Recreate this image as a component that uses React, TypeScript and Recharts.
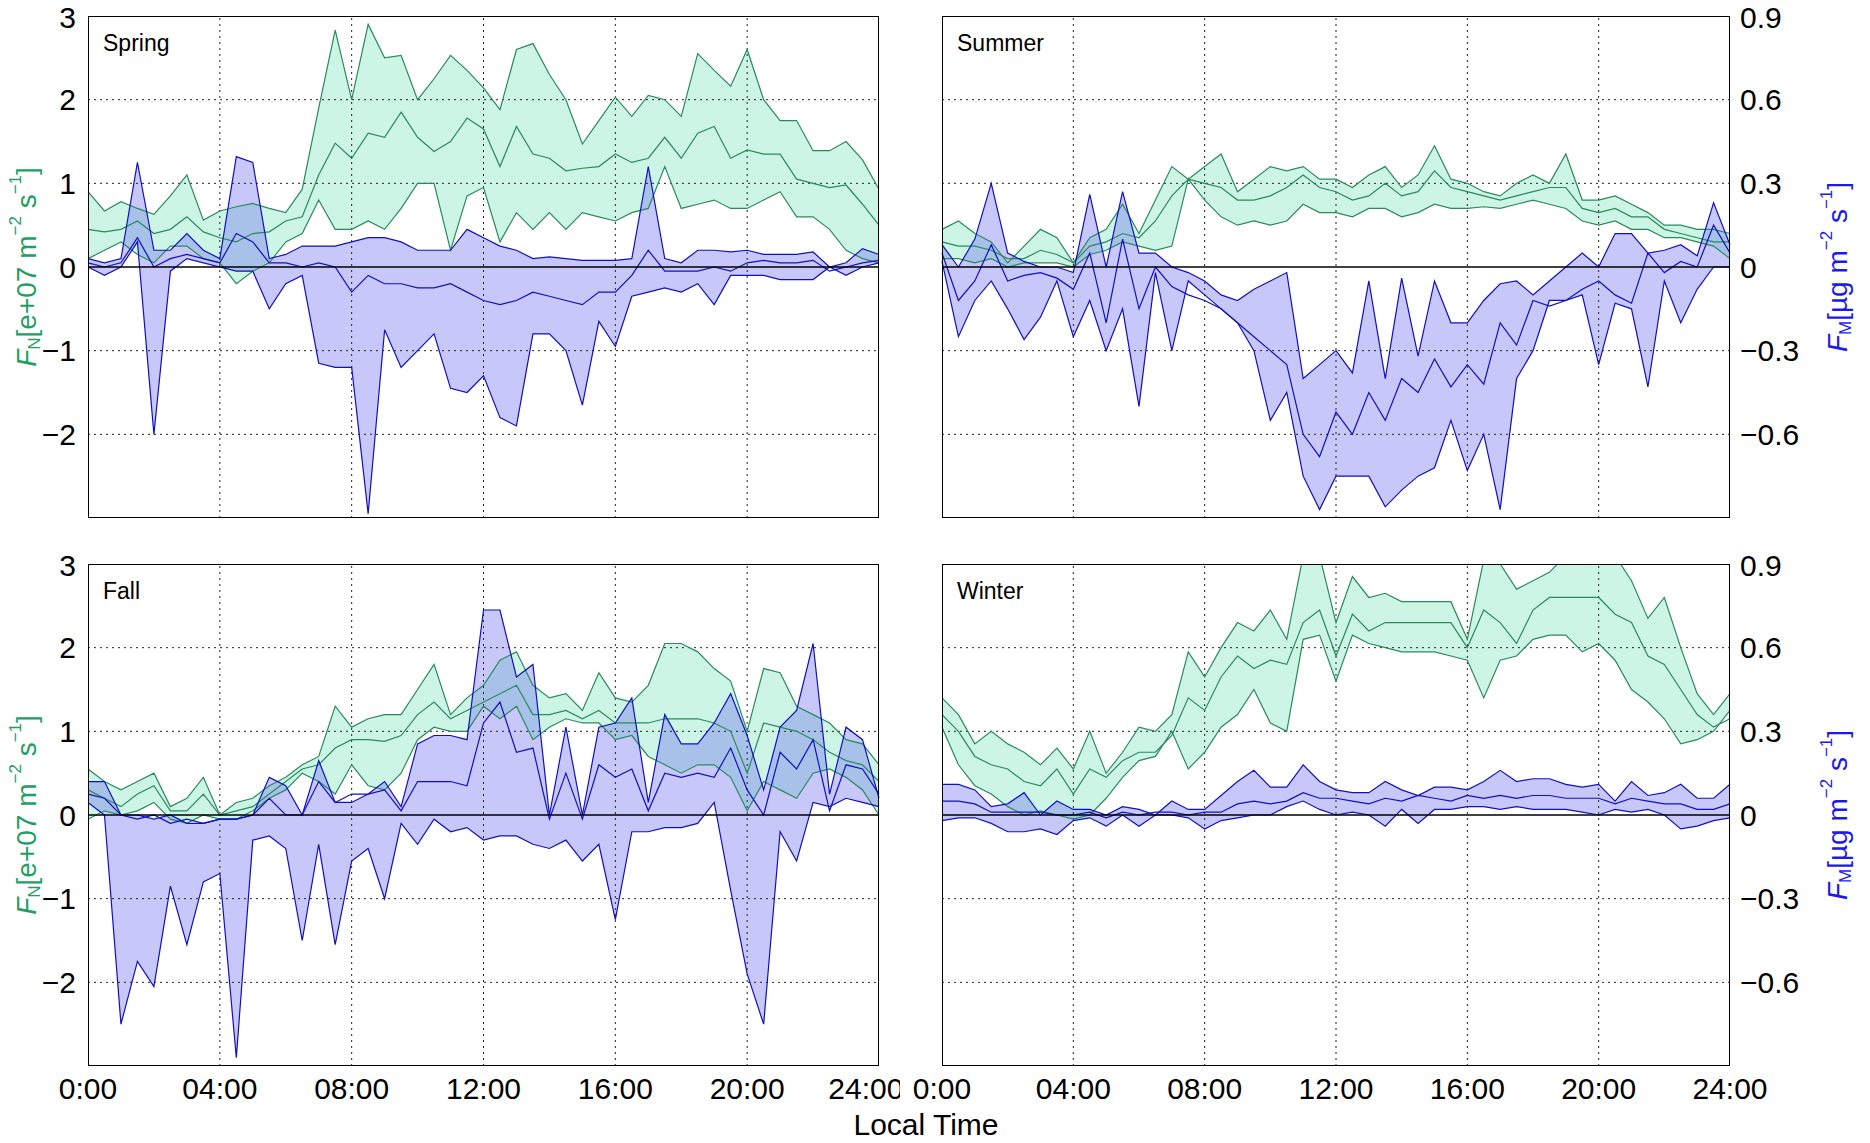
import React from "react";
import { ComposedChart, Area, Line, XAxis, YAxis, ReferenceLine } from "recharts";

// time axis: half-hour steps 0..24
const hours = Array.from({ length: 49 }, (_, i) => i * 0.5);
const timeTicks = [0, 4, 8, 12, 16, 20, 24];
const timeLabels = ["0:00", "04:00", "08:00", "12:00", "16:00", "20:00", "24:00"];
const leftTicksTop = [-3, -2, -1, 0, 1, 2, 3];
const leftTicksBottom = [-2, -1, 0, 1, 2, 3];
const rightTicksTop = [-0.9, -0.6, -0.3, 0, 0.3, 0.6, 0.9];
const rightTicksBottom = [-0.6, -0.3, 0, 0.3, 0.6, 0.9];
const gridN = [-2, -1, 1, 2];
const gridT = [4, 8, 12, 16, 20];

// Spring (N in e+07 m^-2 s^-1, M in µg m^-2 s^-1)
const springNHi = [0.9,0.67,0.78,0.7,0.63,0.85,1.1,0.56,0.67,0.72,0.76,0.7,0.65,0.93,1.9,2.83,2.0,2.9,2.5,2.53,2.0,2.25,2.53,2.35,2.14,1.88,2.6,2.67,2.3,2.0,1.47,1.75,2.03,1.8,2.05,2.0,1.8,2.55,2.35,2.16,2.6,2.0,1.75,1.75,1.39,1.39,1.5,1.28,0.93];
const springNMid = [0.45,0.42,0.45,0.55,0.4,0.45,0.6,0.42,0.35,0.3,0.4,0.42,0.55,0.6,1.1,1.48,1.3,1.6,1.55,1.85,1.55,1.38,1.5,1.78,1.65,1.2,1.68,1.35,1.3,1.15,1.18,1.2,1.35,1.25,1.3,1.55,1.3,1.6,1.68,1.3,1.4,1.35,1.35,1.05,1.0,0.95,0.98,0.75,0.5];
const springNLo = [0.1,0.2,0.3,0.15,0.05,0.25,0.25,0.1,0.05,-0.2,-0.05,0.05,0.3,0.4,0.8,0.45,0.45,0.55,0.45,0.7,1.0,1.0,0.2,0.85,0.95,0.3,0.65,0.45,0.65,0.45,0.65,0.6,0.55,0.65,0.7,1.2,0.7,0.75,0.8,0.7,0.7,0.8,0.9,0.6,0.6,0.45,0.2,0.1,0.05];
const springMHi = [0.03,0.015,0.03,0.375,0.06,0.06,0.12,0.06,0.03,0.396,0.375,0.03,0.045,0.075,0.075,0.075,0.09,0.105,0.105,0.09,0.06,0.06,0.06,0.135,0.105,0.075,0.06,0.03,0.036,0.03,0.024,0.024,0.024,0.03,0.36,0.03,0.015,0.06,0.06,0.054,0.06,0.045,0.045,0.045,0.054,0.0,0.015,0.066,0.045];
const springMMid = [0.015,0.0,0.015,0.105,0.0,0.03,0.045,0.03,0.015,0.12,0.09,0.015,0.015,0.0,0.015,0.0,-0.09,-0.03,-0.06,-0.06,-0.075,-0.075,-0.06,-0.09,-0.12,-0.135,-0.12,-0.09,-0.105,-0.12,-0.135,-0.09,-0.09,-0.03,0.06,-0.015,-0.015,-0.015,0.0,-0.015,0.015,0.024,0.015,0.015,0.024,-0.015,0.0,0.015,0.024];
const springMLo = [0.0,-0.03,0.0,0.09,-0.6,-0.015,0.03,0.015,0.0,-0.015,-0.015,-0.15,-0.06,-0.03,-0.345,-0.36,-0.36,-0.885,-0.225,-0.36,-0.3,-0.24,-0.435,-0.45,-0.39,-0.54,-0.57,-0.24,-0.24,-0.3,-0.495,-0.195,-0.285,-0.105,-0.09,-0.075,-0.09,-0.06,-0.135,-0.03,-0.03,-0.03,-0.045,-0.045,-0.045,0.0,-0.03,0.0,0.015];

// Summer
const summerNHi = [0.45,0.55,0.4,0.3,0.05,0.25,0.45,0.35,0.05,0.35,0.45,0.75,0.4,0.8,1.2,1.05,1.2,1.35,0.9,1.05,1.2,1.15,1.2,1.05,1.05,0.95,1.1,1.2,0.95,1.1,1.45,1.05,1.0,0.9,0.85,1.0,1.1,1.0,1.35,0.8,0.8,0.85,0.75,0.65,0.5,0.5,0.45,0.45,0.4];
const summerNMid = [0.3,0.25,0.25,0.2,0.1,0.1,0.2,0.15,0.05,0.25,0.3,0.4,0.35,0.55,0.85,1.05,1.0,0.95,0.8,0.8,0.85,0.95,1.1,0.95,0.9,0.8,0.85,1.0,0.85,0.9,1.15,0.95,0.9,0.85,0.8,0.85,0.9,0.95,0.95,0.7,0.65,0.7,0.6,0.6,0.45,0.4,0.35,0.3,0.3];
const summerNLo = [0.1,0.1,0.05,0.1,0.0,0.05,0.05,0.05,0.0,0.15,0.2,0.3,0.25,0.2,0.25,1.05,0.8,0.6,0.5,0.55,0.5,0.55,0.75,0.65,0.65,0.6,0.7,0.7,0.6,0.65,0.75,0.7,0.7,0.72,0.7,0.75,0.8,0.75,0.7,0.55,0.5,0.55,0.45,0.45,0.35,0.35,0.3,0.25,0.1];
const summerMHi = [0.08,0.0,0.1,0.3,0.05,0.02,0.0,0.0,-0.02,0.26,0.0,0.27,0.05,0.05,0.0,-0.02,-0.05,-0.1,-0.12,-0.08,-0.05,-0.02,-0.4,-0.35,-0.3,-0.38,-0.05,-0.4,-0.04,-0.32,-0.05,-0.2,-0.2,-0.12,-0.06,-0.05,-0.1,-0.05,0.0,0.05,0.0,0.12,0.12,0.05,0.06,0.08,0.04,0.23,0.08];
const summerMMid = [0.05,-0.12,-0.05,0.08,-0.05,-0.03,-0.02,-0.04,-0.08,0.05,-0.2,0.1,-0.15,0.0,-0.07,-0.1,-0.12,-0.15,-0.2,-0.25,-0.3,-0.35,-0.6,-0.68,-0.52,-0.6,-0.45,-0.55,-0.4,-0.45,-0.33,-0.43,-0.35,-0.42,-0.2,-0.28,-0.12,-0.14,-0.12,-0.08,-0.05,-0.1,-0.13,0.05,-0.02,0.02,0.0,0.15,0.05];
const summerMLo = [0.02,-0.25,-0.12,-0.05,-0.15,-0.26,-0.18,-0.05,-0.25,-0.12,-0.3,-0.15,-0.5,-0.02,-0.3,-0.05,-0.1,-0.15,-0.2,-0.3,-0.55,-0.45,-0.75,-0.87,-0.75,-0.75,-0.75,-0.86,-0.8,-0.75,-0.72,-0.55,-0.73,-0.6,-0.87,-0.4,-0.3,-0.12,-0.12,-0.1,-0.35,-0.13,-0.15,-0.43,-0.05,-0.2,-0.08,0.0,0.0];

// Fall
const fallNHi = [0.55,0.4,0.3,0.4,0.5,0.1,0.2,0.45,0.0,0.15,0.2,0.35,0.45,0.6,0.7,1.3,1.05,1.15,1.2,1.2,1.5,1.8,1.2,1.4,1.55,1.85,1.95,1.55,1.4,1.45,1.25,1.7,1.4,1.35,1.55,2.05,2.05,1.95,1.75,1.6,1.0,1.75,1.7,1.3,1.2,1.1,0.9,0.85,0.6];
const fallNMid = [0.3,0.2,0.1,0.25,0.35,0.05,0.05,0.25,0.0,0.05,0.1,0.25,0.4,0.55,0.6,0.8,0.9,0.9,0.88,0.95,1.2,1.35,1.15,1.25,1.35,1.45,1.55,1.2,1.2,1.25,1.15,1.25,1.1,1.1,1.1,1.15,1.15,1.15,1.1,1.0,0.5,1.1,1.05,1.0,0.9,0.75,0.65,0.6,0.4];
const fallNLo = [-0.05,0.05,0.0,0.05,0.15,-0.05,-0.1,0.0,-0.05,-0.05,0.05,0.2,0.3,0.5,0.4,0.25,0.6,0.35,0.3,0.5,0.9,1.05,1.0,1.0,1.3,1.15,1.3,0.9,1.05,1.15,1.1,1.1,0.9,0.95,0.7,0.6,0.5,0.6,0.6,0.45,0.05,0.4,0.3,0.2,0.5,0.55,0.45,0.3,0.0];
const fallMHi = [0.12,0.12,0.0,0.0,-0.015,0.0,-0.03,-0.03,-0.015,-0.015,0.0,0.135,0.105,0.0,0.195,0.045,0.045,0.075,0.12,0.03,0.255,0.285,0.285,0.27,0.735,0.735,0.495,0.54,0.0,0.315,0.0,0.315,0.33,0.42,0.045,0.36,0.255,0.255,0.33,0.435,0.285,0.09,0.315,0.375,0.615,0.075,0.315,0.27,0.06];
const fallMMid = [0.075,0.06,0.0,-0.015,0.0,-0.03,-0.015,-0.03,-0.015,-0.015,0.0,0.06,0.0,0.0,0.12,0.045,0.075,0.075,0.09,0.015,0.12,0.12,0.12,0.105,0.33,0.405,0.225,0.24,-0.015,0.15,-0.015,0.18,0.135,0.165,0.015,0.15,0.135,0.15,0.135,0.24,0.09,0.0,0.225,0.165,0.27,0.015,0.18,0.165,0.075];
const fallMLo = [0.045,0.0,-0.75,-0.525,-0.615,-0.255,-0.465,-0.24,-0.21,-0.87,-0.09,-0.075,-0.12,-0.45,-0.105,-0.465,-0.165,-0.12,-0.3,-0.03,-0.105,-0.015,-0.06,-0.045,-0.09,-0.075,-0.075,-0.105,-0.12,-0.09,-0.165,-0.105,-0.375,-0.06,-0.06,-0.045,-0.045,-0.03,0.045,-0.27,-0.57,-0.75,-0.06,-0.165,0.045,0.03,0.06,0.045,0.03];

// Winter
const winterNHi = [1.4,1.2,0.85,1.0,0.85,0.75,0.6,0.8,0.55,1.0,0.5,0.75,1.05,1.0,1.2,1.95,1.65,2.0,2.3,2.2,2.45,2.1,3.1,3.1,2.3,2.85,2.6,2.65,2.55,2.55,2.55,2.55,2.1,3.05,3.0,2.7,2.8,2.9,3.1,3.2,3.1,3.1,2.8,2.35,2.6,2.0,1.45,1.2,1.45];
const winterNMid = [1.2,1.0,0.7,0.6,0.55,0.4,0.35,0.55,0.25,0.55,0.45,0.65,0.75,0.75,0.95,1.4,1.25,1.65,1.9,1.75,1.85,1.8,2.3,2.45,1.9,2.4,2.2,2.3,2.3,2.3,2.3,2.3,2.0,2.45,2.3,2.05,2.45,2.6,2.6,2.6,2.6,2.4,2.3,1.9,1.8,1.5,1.2,1.05,1.15];
const winterNLo = [1.05,0.6,0.35,0.25,0.1,0.0,0.05,0.0,-0.05,0.0,0.2,0.45,0.65,0.7,1.0,0.55,0.75,1.05,1.2,1.5,1.1,1.0,2.1,2.15,1.6,2.15,2.05,2.0,1.95,1.95,1.95,1.9,1.85,1.4,1.85,1.9,2.1,2.15,2.15,1.95,2.05,1.85,1.5,1.35,1.15,0.85,0.9,1.0,1.25];
const winterMHi = [0.11,0.11,0.09,0.03,0.04,0.08,0.0,0.05,0.02,0.02,0.0,0.03,0.02,0.0,0.05,0.02,0.02,0.07,0.12,0.16,0.1,0.1,0.18,0.12,0.09,0.08,0.08,0.12,0.09,0.07,0.1,0.1,0.09,0.12,0.16,0.12,0.13,0.13,0.11,0.1,0.11,0.05,0.12,0.07,0.08,0.11,0.06,0.06,0.11];
const winterMMid = [0.05,0.05,0.04,0.01,0.01,0.01,0.01,0.0,0.0,0.01,-0.01,0.01,0.0,0.01,0.01,0.0,0.01,0.01,0.04,0.05,0.04,0.05,0.08,0.06,0.06,0.05,0.04,0.06,0.05,0.07,0.06,0.05,0.07,0.06,0.07,0.06,0.07,0.07,0.06,0.06,0.06,0.04,0.06,0.05,0.04,0.04,0.02,0.02,0.04];
const winterMLo = [-0.02,-0.01,-0.01,-0.03,-0.06,-0.06,-0.05,-0.07,-0.02,-0.01,-0.04,0.0,-0.04,0.0,0.0,-0.01,-0.05,-0.02,-0.01,0.0,0.0,0.03,0.05,0.02,0.0,0.01,0.0,-0.04,0.02,-0.03,0.02,0.02,0.03,0.03,0.02,0.03,0.02,0.02,0.02,0.01,0.0,0.02,0.01,0.02,0.0,-0.05,-0.04,-0.02,-0.01];

const GREEN_EDGE = "#2a8a5c";
const GREEN_FILL = "#7fe6c0";
const BLUE_EDGE = "#1010c0";
const BLUE_FILL = "#6c6cf0";
const FONT = "'Liberation Sans', Arial, sans-serif";

function build(nLo: number[], nMid: number[], nHi: number[], mLo: number[], mMid: number[], mHi: number[]) {
  return hours.map((h, i) => ({
    h,
    nLo: nLo[i], nMid: nMid[i], nHi: nHi[i], nRange: [nLo[i], nHi[i]],
    mLo: mLo[i], mMid: mMid[i], mHi: mHi[i], mRange: [mLo[i], mHi[i]],
  }));
}

const LeftLabel = (props: any) => {
  const vb = props.viewBox || {};
  const cx = 26;
  const cy = vb.y + vb.height / 2;
  return (
    <text transform={`translate(${cx},${cy}) rotate(-90)`} textAnchor="middle" fill="#1fa065" fontSize={28} fontFamily={FONT} dominantBaseline="central">
      <tspan fontStyle="italic">F</tspan>
      <tspan fontSize={17} dy={8}>N</tspan>
      <tspan dy={-8}>[e+07 m</tspan>
      <tspan fontSize={17} dy={-11}>−2</tspan>
      <tspan dy={11}> s</tspan>
      <tspan fontSize={17} dy={-11}>−1</tspan>
      <tspan dy={11}>]</tspan>
    </text>
  );
};

const RightLabel = (props: any) => {
  const vb = props.viewBox || {};
  const cx = 937;
  const cy = vb.y + vb.height / 2;
  return (
    <text transform={`translate(${cx},${cy}) rotate(-90)`} textAnchor="middle" fill="#1a1aee" fontSize={28} fontFamily={FONT} dominantBaseline="central">
      <tspan fontStyle="italic">F</tspan>
      <tspan fontSize={17} dy={8}>M</tspan>
      <tspan dy={-8}>[µg m</tspan>
      <tspan fontSize={17} dy={-11}>−2</tspan>
      <tspan dy={11}> s</tspan>
      <tspan fontSize={17} dy={-11}>−1</tspan>
      <tspan dy={11}>]</tspan>
    </text>
  );
};

type PanelProps = {
  data: any[];
  title: string;
  side: "left" | "right";
  bottom: boolean;
  left: number;
  top: number;
};

function Panel({ data, title, side, bottom, left, top }: PanelProps) {
  const width = side === "left" ? 900 : 970;
  const margin = side === "left" ? { top: 16, right: 21, left: 38, bottom: 0 } : { top: 16, right: 70, left: 42, bottom: 0 };
  const xH = bottom ? 44 : 1;
  const plotH = 502;
  const height = 16 + plotH + xH;
  const plotLeft = side === "left" ? 88 : 42;
  const plotW = side === "left" ? 791 : 788;
  const tickStyle = { fontSize: 30, fill: "#000", fontFamily: FONT };
  const gridStyle = { stroke: "#222", strokeDasharray: "2 4", strokeWidth: 1 };
  return (
    <div style={{ position: "absolute", left, top, width, height }}>
      <ComposedChart width={width} height={height} data={data} margin={margin} style={{ overflow: "visible" }}>
        <XAxis
          dataKey="h" type="number" domain={[0, 24]} ticks={timeTicks} height={xH}
          tick={bottom ? tickStyle : false} tickLine={false} axisLine={false} tickMargin={6}
          tickFormatter={(v: number) => timeLabels[timeTicks.indexOf(v)]}
        />
        <YAxis
          yAxisId="n" orientation="left" domain={[-3, 3]} allowDataOverflow
          ticks={bottom ? leftTicksBottom : leftTicksTop} hide={side !== "left"} width={50}
          tick={tickStyle} tickLine={false} axisLine={false} tickMargin={6}
          tickFormatter={(v: number) => (v < 0 ? "−" + Math.abs(v) : String(v))}
          label={side === "left" ? <LeftLabel /> : undefined}
        />
        <YAxis
          yAxisId="m" orientation="right" domain={[-0.9, 0.9]} allowDataOverflow
          ticks={bottom ? rightTicksBottom : rightTicksTop} hide={side !== "right"} width={70}
          tick={tickStyle} tickLine={false} axisLine={false} tickMargin={4}
          tickFormatter={(v: number) => (v === 0 ? "0" : (v < 0 ? "−" : "") + Math.abs(v).toFixed(1))}
          label={side === "right" ? <RightLabel /> : undefined}
        />
        {gridN.map((g) => (
          <ReferenceLine key={"gy" + g} yAxisId="n" y={g} {...gridStyle} />
        ))}
        {gridT.map((g) => (
          <ReferenceLine key={"gx" + g} yAxisId="n" x={g} {...gridStyle} />
        ))}
        <Area yAxisId="n" dataKey="nRange" type="linear" stroke="none" fill={GREEN_FILL} fillOpacity={0.4} isAnimationActive={false} />
        <Line yAxisId="n" dataKey="nHi" type="linear" stroke={GREEN_EDGE} strokeWidth={1.2} dot={false} isAnimationActive={false} />
        <Line yAxisId="n" dataKey="nMid" type="linear" stroke={GREEN_EDGE} strokeWidth={1.2} dot={false} isAnimationActive={false} />
        <Line yAxisId="n" dataKey="nLo" type="linear" stroke={GREEN_EDGE} strokeWidth={1.2} dot={false} isAnimationActive={false} />
        <Area yAxisId="m" dataKey="mRange" type="linear" stroke="none" fill={BLUE_FILL} fillOpacity={0.38} isAnimationActive={false} />
        <Line yAxisId="m" dataKey="mHi" type="linear" stroke={BLUE_EDGE} strokeWidth={1.2} dot={false} isAnimationActive={false} />
        <Line yAxisId="m" dataKey="mMid" type="linear" stroke={BLUE_EDGE} strokeWidth={1.2} dot={false} isAnimationActive={false} />
        <Line yAxisId="m" dataKey="mLo" type="linear" stroke={BLUE_EDGE} strokeWidth={1.2} dot={false} isAnimationActive={false} />
        <ReferenceLine yAxisId="n" y={0} stroke="#000" strokeWidth={1.6} />
      </ComposedChart>
      <div style={{ position: "absolute", left: plotLeft, top: 16, width: plotW, height: plotH, border: "1.5px solid #000", boxSizing: "border-box", pointerEvents: "none" }} />
      <div style={{ position: "absolute", left: plotLeft + 15, top: 30, fontSize: 23, fontFamily: FONT, color: "#000" }}>{title}</div>
    </div>
  );
}

export default function App() {
  return (
    <div style={{ position: "absolute", left: 0, top: 0, width: 1870, height: 1143, background: "#fff", overflow: "hidden" }}>
      <Panel data={build(springNLo, springNMid, springNHi, springMLo, springMMid, springMHi)} title="Spring" side="left" bottom={false} left={0} top={0} />
      <Panel data={build(summerNLo, summerNMid, summerNHi, summerMLo, summerMMid, summerMHi)} title="Summer" side="right" bottom={false} left={900} top={0} />
      <Panel data={build(fallNLo, fallNMid, fallNHi, fallMLo, fallMMid, fallMHi)} title="Fall" side="left" bottom={true} left={0} top={548} />
      <Panel data={build(winterNLo, winterNMid, winterNHi, winterMLo, winterMMid, winterMHi)} title="Winter" side="right" bottom={true} left={900} top={548} />
      <div style={{ position: "absolute", left: 926, top: 1108, transform: "translateX(-50%)", whiteSpace: "nowrap", fontSize: 30, fontFamily: FONT, color: "#000" }}>
        Local Time
      </div>
    </div>
  );
}
